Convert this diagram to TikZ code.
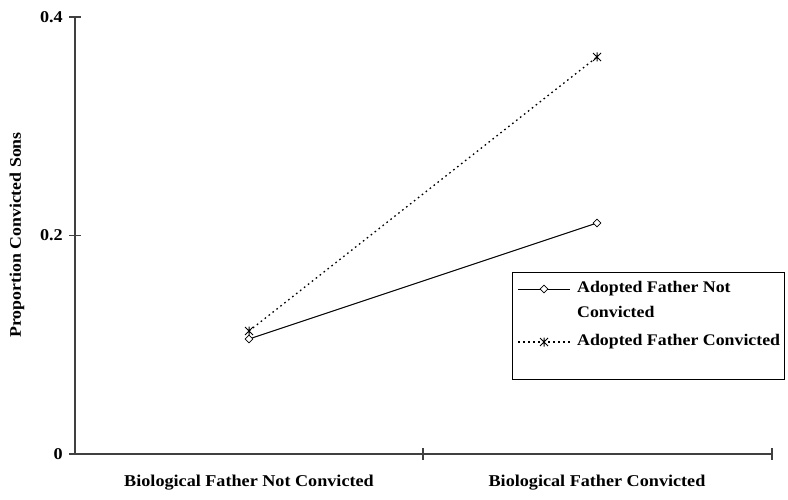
\documentclass[tikz,border=0pt]{standalone}
\usepackage{fontspec}
\setmainfont{Liberation Serif}[FakeStretch=1.1]
\usetikzlibrary{shapes.geometric}
\begin{document}
\begin{tikzpicture}[x=1pt,y=-1pt,
  axisline/.style={line width=1.4pt,draw=black!75},
  ticklbl/.style={font=\bfseries\fontsize{16.5}{19}\selectfont,anchor=east,inner sep=0pt},
  catlbl/.style={font=\bfseries\fontsize{16.5}{19}\selectfont,inner sep=0pt},
  legtxt/.style={font=\bfseries\fontsize{16.2}{19}\selectfont,anchor=west,inner sep=0pt},
  solidser/.style={line width=1pt,black},
  dotser/.style={line width=1.3pt,black,dash pattern=on 1.6pt off 3.4pt},
  dmark/.style={draw=black,fill=white,line width=0.8pt,shape=diamond,minimum size=8pt,inner sep=0pt},
  smark/.style={minimum size=8pt,inner sep=0pt}
]
\useasboundingbox (0,0) rectangle (788,500);
% axes
\coordinate (o) at (75,454);
\coordinate (ytop) at (75,17);
\coordinate (xend) at (772,454);
\draw[axisline] (ytop) -- (o) -- (xend);
% y ticks
\foreach \y/\t in {454/0,235.5/0.2,17/0.4}{
  \draw[axisline] (69,\y) -- (81,\y);
  \node[ticklbl] at (63,\y) {\t};
}
% x ticks
\foreach \x in {423,772}{
  \draw[axisline] (\x,448) -- (\x,460);
}
\node[catlbl] (c1) at (249,483) {Biological Father Not Convicted};
\node[catlbl] (c2) at (597,483) {Biological Father Convicted};
\node[font=\bfseries\fontsize{16.2}{18}\selectfont,rotate=90,inner sep=0pt] (ylab) at (17,235) {Proportion Convicted Sons};
% data points
\node[smark] (b1) at (249,331) {};
\node[smark] (b2) at (597,57) {};
\draw[dotser] (b1.center) -- (b2.center);
\node[dmark] (a1) at (249,339) {};
\node[dmark] (a2) at (597,223) {};
\draw[solidser] (a1) -- (a2);
% star markers
\foreach \p in {b1,b2}{
  \draw[line width=1pt] ([shift={(-4,-4)}]\p.center) -- ([shift={(4,4)}]\p.center)
    ([shift={(-4,4)}]\p.center) -- ([shift={(4,-4)}]\p.center)
    ([shift={(0,-4.5)}]\p.center) -- ([shift={(0,4.5)}]\p.center);
}
% legend
\node[draw=black,line width=1pt,minimum width=272pt,minimum height=107pt,anchor=north west,inner sep=0pt] (leg) at (512,272) {};
\coordinate (l1a) at (518,289);
\coordinate (l1b) at (570,289);
\draw[solidser] (l1a) -- (l1b);
\node[dmark] (l1m) at (544,289) {};
\node[legtxt] (t1) at (577,289) {Adopted Father Not};
\node[legtxt] (t1b) at (577,312) {Convicted};
\coordinate (l2a) at (518,342);
\coordinate (l2b) at (570,342);
\draw[dotser] (l2a) -- (l2b);
\node[smark] (l2m) at (544,342) {};
\draw[line width=1pt] ([shift={(-4,-4)}]l2m.center) -- ([shift={(4,4)}]l2m.center)
    ([shift={(-4,4)}]l2m.center) -- ([shift={(4,-4)}]l2m.center)
    ([shift={(0,-4.5)}]l2m.center) -- ([shift={(0,4.5)}]l2m.center);
\node[legtxt] (t2) at (577,342) {Adopted Father Convicted};
\end{tikzpicture}
\end{document}
